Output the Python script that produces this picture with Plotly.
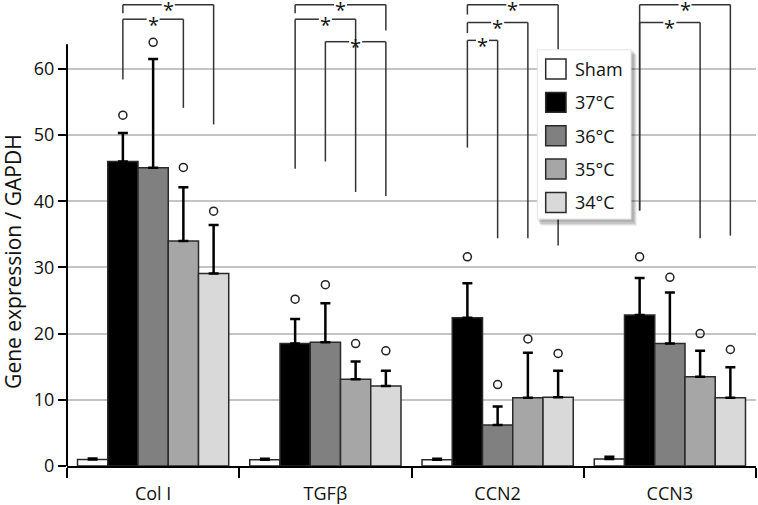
import plotly.graph_objects as go

# ---------------- data ----------------
categories = ["Col I", "TGFβ", "CCN2", "CCN3"]
series_names = ["Sham", "37°C", "36°C", "35°C", "34°C"]
series_colors = ["#ffffff", "#000000", "#808080", "#a6a6a6", "#d9d9d9"]

sham_mean = [1.0, 0.95, 0.95, 1.05]
c37_mean = [46.0, 18.5, 22.4, 22.8]
c36_mean = [45.05, 18.7, 6.2, 18.5]
c35_mean = [34.0, 13.1, 10.3, 13.5]
c34_mean = [29.1, 12.1, 10.4, 10.3]

sham_sd = [0.15, 0.15, 0.15, 0.35]
c37_sd = [4.3, 3.7, 5.2, 5.6]
c36_sd = [16.45, 5.9, 2.8, 7.7]
c35_sd = [8.1, 2.7, 6.8, 3.9]
c34_sd = [7.3, 2.3, 4.0, 4.6]

# open-circle markers (significant vs Sham), None = no marker
sham_mark = [None, None, None, None]
c37_mark = [53.0, 25.2, 31.6, 31.6]
c36_mark = [64.0, 27.4, 12.3, 28.5]
c35_mark = [45.1, 18.5, 19.2, 20.0]
c34_mark = [38.5, 17.4, 17.0, 17.6]

means = [sham_mean, c37_mean, c36_mean, c35_mean, c34_mean]
sds = [sham_sd, c37_sd, c36_sd, c35_sd, c34_sd]
marks = [sham_mark, c37_mark, c36_mark, c35_mark, c34_mark]

# significance brackets: (category, series a, series b, top, left leg bottom, right leg bottom)
brackets = [
    (0, 1, 4, 69.7, 68.4, 51.6),
    (0, 1, 3, 67.5, 58.4, 54.1),
    (1, 1, 4, 69.7, 68.4, 65.8),
    (1, 1, 3, 67.5, 44.9, 41.4),
    (1, 2, 4, 64.1, 46.0, 40.8),
    (2, 1, 4, 69.7, 68.2, 33.3),
    (2, 1, 3, 67.0, 65.4, 34.4),
    (2, 1, 2, 64.3, 48.1, 34.4),
    (3, 1, 4, 69.7, 38.6, 34.8),
    (3, 1, 3, 67.0, 38.6, 34.4),
]

y_ticks = [0, 10, 20, 30, 40, 50, 60]
y_axis_top = 63.7

# ---------------- layout constants ----------------
W, H = 758, 505
ML, MR, MT, MB = 67, 2, 0, 37
PW, PH = W - ML - MR, H - MT - MB
FONT = "Open Sans"
n = len(series_names)
bw = 0.878 / n  # bar width in category units


def xpos(cat, k):
    return cat + (k - (n - 1) / 2) * bw


def px_x(p):
    return (p - ML) / PW


def px_y(p):
    return (H - MB - p) / PH


fig = go.Figure()

for k in range(n):
    xs = [xpos(i, k) for i in range(len(categories))]
    fig.add_trace(go.Bar(
        x=xs, y=means[k], width=bw, name=series_names[k],
        marker=dict(color=series_colors[k], line=dict(color="#2a2a2a", width=1.5)),
        error_y=dict(type="data", symmetric=False, array=sds[k],
                     arrayminus=[0] * len(categories),
                     color="#000000", thickness=2.5, width=5),
        showlegend=False,
    ))

for k in range(n):
    xs, ys = [], []
    for i in range(len(categories)):
        if marks[k][i] is not None:
            xs.append(xpos(i, k))
            ys.append(marks[k][i])
    if xs:
        fig.add_trace(go.Scatter(
            x=xs, y=ys, mode="markers", showlegend=False,
            marker=dict(symbol="circle-open", size=8, color="#222222",
                        line=dict(width=1.5, color="#222222")),
        ))

shapes = []
annotations = []
LC = "#333333"
gap = 6.5 / (PW / 4)
for (cat, a, b, top, lb, rb) in brackets:
    xa, xb = xpos(cat, a), xpos(cat, b)
    xm = (xa + xb) / 2
    for (x0, y0, x1, y1) in [(xa, lb, xa, top), (xa, top, xm - gap, top),
                             (xm + gap, top, xb, top), (xb, top, xb, rb)]:
        shapes.append(dict(type="line", xref="x", yref="y", x0=x0, y0=y0, x1=x1, y1=y1,
                           line=dict(color=LC, width=1.5), layer="above"))
    annotations.append(dict(x=xm, y=top, xref="x", yref="y", text="*", showarrow=False,
                            font=dict(family=FONT, size=20, color="#111111"),
                            xanchor="center", yanchor="middle", yshift=-5))

# y axis line (stops below the brackets)
shapes.append(dict(type="line", xref="paper", yref="y", x0=0, x1=0, y0=0, y1=y_axis_top,
                   line=dict(color="#000000", width=2), layer="above"))

# legend box with soft shadow
lx0, lx1, ly0, ly1 = 537.3, 631.0, 50.0, 220.0
for (dx, dy, op) in [(6, 7, 0.06), (5, 6, 0.08), (4, 5, 0.10), (3, 3, 0.10)]:
    shapes.append(dict(type="rect", xref="paper", yref="paper",
                       x0=px_x(lx0 + dx - 2), x1=px_x(lx1 + dx), y0=px_y(ly1 + dy), y1=px_y(ly0 + dy - 2),
                       fillcolor=f"rgba(0,0,0,{op})", line=dict(width=0), layer="above"))
shapes.append(dict(type="rect", xref="paper", yref="paper",
                   x0=px_x(lx0), x1=px_x(lx1), y0=px_y(ly1), y1=px_y(ly0),
                   fillcolor="#ffffff", line=dict(color="#e4e4e4", width=1), layer="above"))
for k in range(n):
    cy = 69.3 + 33.5 * k
    shapes.append(dict(type="rect", xref="paper", yref="paper",
                       x0=px_x(545.7), x1=px_x(566.0), y0=px_y(cy + 10), y1=px_y(cy - 10),
                       fillcolor=series_colors[k], line=dict(color="#2a2a2a", width=1.5),
                       layer="above"))
    annotations.append(dict(x=px_x(573), y=px_y(cy), xref="paper", yref="paper",
                            text=series_names[k], showarrow=False, xanchor="left",
                            yanchor="middle", font=dict(family=FONT, size=18, color="#111111")))

# y axis title
annotations.append(dict(x=px_x(13), y=px_y(263), xref="paper", yref="paper",
                        text="Gene expression / GAPDH", textangle=-90, showarrow=False,
                        xanchor="center", yanchor="middle",
                        font=dict(family=FONT, size=21, color="#111111")))

fig.update_layout(
    width=W, height=H,
    margin=dict(l=ML, r=MR, t=MT, b=MB),
    paper_bgcolor="#ffffff", plot_bgcolor="#ffffff",
    barmode="overlay",
    font=dict(family=FONT, size=18, color="#111111"),
    shapes=shapes, annotations=annotations,
    xaxis=dict(
        range=[-0.5, len(categories) - 0.5],
        tickmode="array", tickvals=list(range(len(categories))), ticktext=categories,
        ticks="outside", ticklen=10, tickcolor="rgba(0,0,0,0)",
        showline=True, linecolor="#000000", linewidth=2,
        showgrid=False, zeroline=False,
        tickfont=dict(family=FONT, size=18, color="#111111"),
        minor=dict(tickmode="linear", tick0=-0.5, dtick=1, ticks="outside",
                   ticklen=10, tickwidth=2, tickcolor="#000000", showgrid=False),
        fixedrange=True,
    ),
    yaxis=dict(
        range=[0, 70.4],
        tickmode="array", tickvals=y_ticks,
        ticks="outside", ticklen=8, tickwidth=1.5, tickcolor="#000000",
        showline=False, showgrid=True, gridcolor="#c4c4c4", gridwidth=1.5,
        zeroline=False,
        tickfont=dict(family=FONT, size=18, color="#111111"),
        fixedrange=True,
    ),
)

fig.write_html("out.html", config={"displayModeBar": False},
               post_script="document.body.style.margin='0';")
